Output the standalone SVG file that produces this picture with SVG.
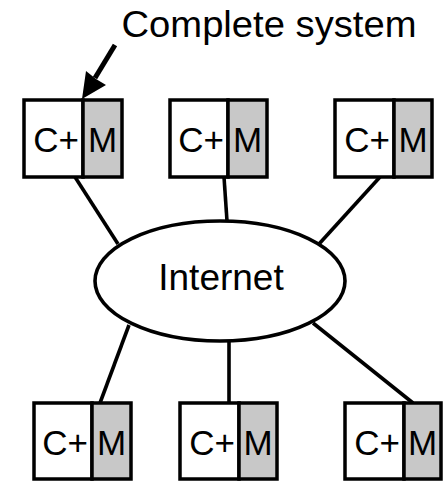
<svg xmlns="http://www.w3.org/2000/svg" width="445" height="482" viewBox="0 0 445 482">
  <style>
    .box { fill: #ffffff; stroke: #000; stroke-width: 3.5; }
    .mem { fill: #c8c8c8; stroke: #000; stroke-width: 3.5; }
    .wire { stroke: #000; stroke-width: 3.6; fill: none; }
    .lbl { font-family: "Liberation Sans", Arial, sans-serif; font-size: 35px; fill: #000; }
    .big { font-family: "Liberation Sans", Arial, sans-serif; font-size: 37px; fill: #000; }
  </style>
  <rect width="445" height="482" fill="#ffffff"/>

  <!-- connectors between systems and the Internet cloud -->
  <g id="connectors">
    <line class="wire" x1="75" y1="177" x2="118" y2="244"/>
    <line class="wire" x1="224" y1="177" x2="227" y2="221"/>
    <line class="wire" x1="380" y1="177" x2="319" y2="244"/>
    <line class="wire" x1="129" y1="325" x2="100" y2="403"/>
    <line class="wire" x1="229" y1="342" x2="229" y2="403"/>
    <line class="wire" x1="313" y1="323" x2="413" y2="403"/>
  </g>

  <g id="internet">
    <ellipse cx="220" cy="281" rx="125" ry="60" fill="#ffffff" stroke="#000" stroke-width="3.6"/>
    <text class="big" x="221" y="290" text-anchor="middle">Internet</text>
  </g>

  <g id="label">
    <text class="big" x="269" y="37" text-anchor="middle" textLength="295" lengthAdjust="spacingAndGlyphs">Complete system</text>
    <line x1="115" y1="45" x2="95" y2="78" stroke="#000" stroke-width="5"/>
    <polygon points="82,99 86,71 96,79 106,85" fill="#000"/>
  </g>

  <g id="sys-top-1">
    <rect class="box" x="24" y="100" width="59" height="77"/>
    <rect class="mem" x="83" y="100" width="39" height="77"/>
    <text class="lbl" x="79" y="152" text-anchor="end">C+</text>
    <text class="lbl" x="102.5" y="152" text-anchor="middle">M</text>
  </g>
  <g id="sys-top-2">
    <rect class="box" x="170" y="100" width="58" height="77"/>
    <rect class="mem" x="228" y="100" width="39" height="77"/>
    <text class="lbl" x="224" y="152" text-anchor="end">C+</text>
    <text class="lbl" x="247.5" y="152" text-anchor="middle">M</text>
  </g>
  <g id="sys-top-3">
    <rect class="box" x="335" y="100" width="59" height="77"/>
    <rect class="mem" x="394" y="100" width="38" height="77"/>
    <text class="lbl" x="390" y="152" text-anchor="end">C+</text>
    <text class="lbl" x="413" y="152" text-anchor="middle">M</text>
  </g>

  <g id="sys-bottom-1">
    <rect class="box" x="34" y="403" width="58" height="76"/>
    <rect class="mem" x="92" y="403" width="39" height="76"/>
    <text class="lbl" x="88" y="455" text-anchor="end">C+</text>
    <text class="lbl" x="111.5" y="455" text-anchor="middle">M</text>
  </g>
  <g id="sys-bottom-2">
    <rect class="box" x="180" y="403" width="59" height="76"/>
    <rect class="mem" x="239" y="403" width="38" height="76"/>
    <text class="lbl" x="235" y="455" text-anchor="end">C+</text>
    <text class="lbl" x="258" y="455" text-anchor="middle">M</text>
  </g>
  <g id="sys-bottom-3">
    <rect class="box" x="345" y="403" width="59" height="76"/>
    <rect class="mem" x="404" y="403" width="37" height="76"/>
    <text class="lbl" x="400" y="455" text-anchor="end">C+</text>
    <text class="lbl" x="422.5" y="455" text-anchor="middle">M</text>
  </g>
</svg>
